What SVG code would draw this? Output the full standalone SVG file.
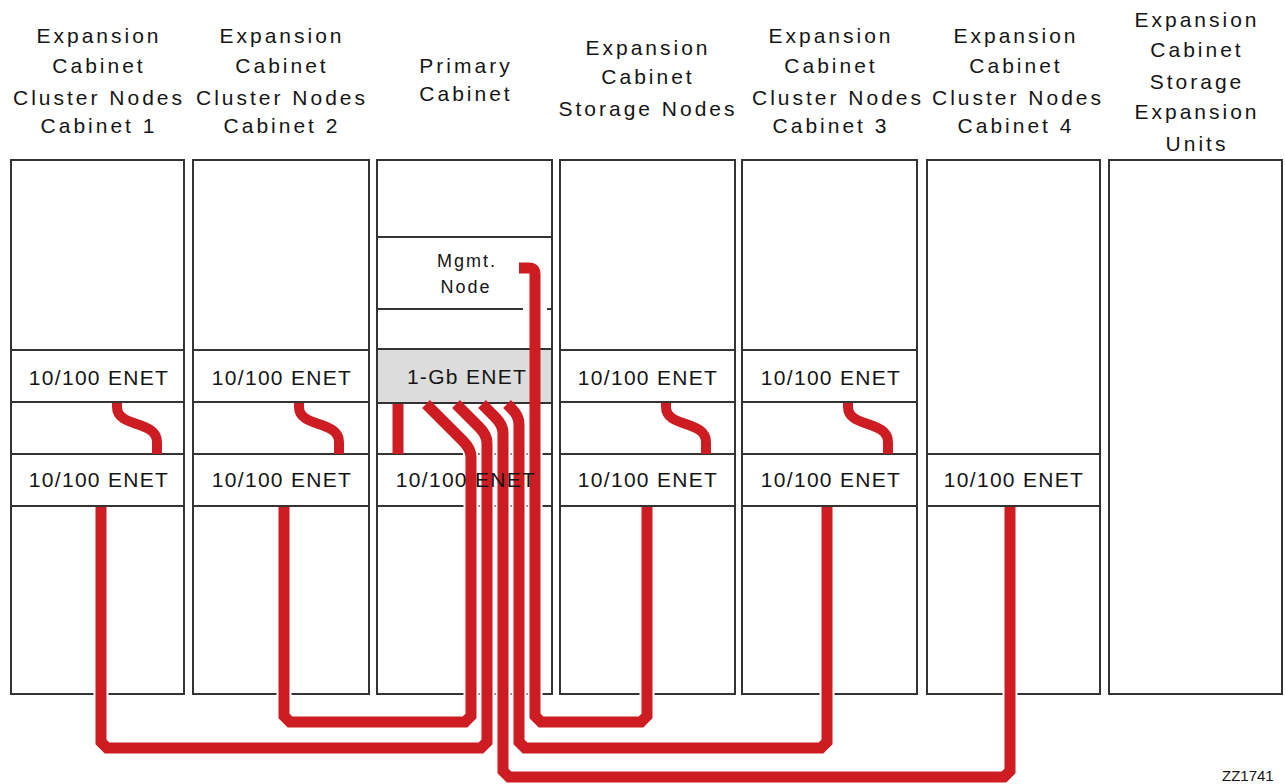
<svg xmlns="http://www.w3.org/2000/svg" width="1285" height="784" viewBox="0 0 1285 784">
<style>
.cab{fill:#fff;stroke:#333;stroke-width:2}
.ln{stroke:#333;stroke-width:2;fill:none}
.gb{fill:#dcdcdc;stroke:#333;stroke-width:2}
.hd{font-family:"Liberation Sans",Arial,sans-serif;font-size:21px;letter-spacing:3px;fill:#151515;text-anchor:middle}
.en{font-family:"Liberation Sans",Arial,sans-serif;font-size:21px;letter-spacing:1.3px;fill:#151515;text-anchor:middle}
.mg{font-family:"Liberation Sans",Arial,sans-serif;font-size:18px;letter-spacing:2px;fill:#151515;text-anchor:middle}
.cb{fill:none;stroke:#cd1c22;stroke-width:11;stroke-linejoin:miter}
.sc{fill:none;stroke:#cd1c22;stroke-width:10}
.halo{fill:none;stroke:#fff;stroke-width:15}
</style>
<defs>
<clipPath id="haloClip"><rect x="0" y="440" width="1285" height="344"/></clipPath>
</defs>
<rect width="1285" height="784" fill="#fff"/>

<g id="cab1">
<rect class="cab" x="11" y="160" width="173" height="534"/>
<path class="ln" d="M11,350H184M11,402H184M11,454H184M11,506H184"/>
<text class="hd" x="99" y="43">Expansion</text>
<text class="hd" x="99" y="73">Cabinet</text>
<text class="hd" x="99" y="105">Cluster Nodes</text>
<text class="hd" x="99" y="133">Cabinet 1</text>
<text class="en" x="99" y="385">10/100 ENET</text>
<text class="en" x="99" y="487">10/100 ENET</text>
</g>

<g id="cab2">
<rect class="cab" x="193" y="160" width="176" height="534"/>
<path class="ln" d="M193,350H369M193,402H369M193,454H369M193,506H369"/>
<text class="hd" x="282" y="43">Expansion</text>
<text class="hd" x="282" y="73">Cabinet</text>
<text class="hd" x="282" y="105">Cluster Nodes</text>
<text class="hd" x="282" y="133">Cabinet 2</text>
<text class="en" x="282" y="385">10/100 ENET</text>
<text class="en" x="282" y="487">10/100 ENET</text>
</g>

<g id="primary">
<rect class="cab" x="377" y="160" width="175" height="534"/>
<path class="ln" d="M377,237H552M377,309H523M547,309H552"/>
<rect class="gb" x="377" y="349" width="175" height="54"/>
<path class="ln" d="M377,454H552M377,506H552"/>
<text class="hd" x="466" y="73">Primary</text>
<text class="hd" x="466" y="101">Cabinet</text>
<text class="mg" x="467" y="267">Mgmt.</text>
<text class="mg" x="466" y="293">Node</text>
<text class="en" x="467" y="384">1-Gb ENET</text>
</g>

<g id="storage">
<rect class="cab" x="560" y="160" width="175" height="534"/>
<path class="ln" d="M560,350H735M560,402H735M560,454H735M560,506H735"/>
<text class="hd" x="648" y="55">Expansion</text>
<text class="hd" x="648" y="84">Cabinet</text>
<text class="hd" x="648" y="116">Storage Nodes</text>
<text class="en" x="648" y="385">10/100 ENET</text>
<text class="en" x="648" y="487">10/100 ENET</text>
</g>

<g id="cab3">
<rect class="cab" x="742" y="160" width="175" height="534"/>
<path class="ln" d="M742,350H917M742,402H917M742,454H917M742,506H917"/>
<text class="hd" x="831" y="43">Expansion</text>
<text class="hd" x="831" y="73">Cabinet</text>
<text class="hd" x="838" y="105">Cluster Nodes</text>
<text class="hd" x="831" y="133">Cabinet 3</text>
<text class="en" x="831" y="385">10/100 ENET</text>
<text class="en" x="831" y="487">10/100 ENET</text>
</g>

<g id="cab4">
<rect class="cab" x="927" y="160" width="173" height="534"/>
<path class="ln" d="M927,454H1100M927,506H1100"/>
<text class="hd" x="1016" y="43">Expansion</text>
<text class="hd" x="1016" y="73">Cabinet</text>
<text class="hd" x="1018" y="105">Cluster Nodes</text>
<text class="hd" x="1016" y="133">Cabinet 4</text>
<text class="en" x="1014" y="487">10/100 ENET</text>
</g>

<g id="storage-exp">
<rect class="cab" x="1109" y="160" width="173" height="534"/>
<text class="hd" x="1197" y="27">Expansion</text>
<text class="hd" x="1197" y="57">Cabinet</text>
<text class="hd" x="1197" y="89">Storage</text>
<text class="hd" x="1197" y="119">Expansion</text>
<text class="hd" x="1197" y="151">Units</text>
</g>

<g id="connectors">
<g clip-path="url(#haloClip)">
<path class="halo" d="M426,404 L463,441 Q471,449 471,457 L471,716 L465,722 L290,722 L284,716 L284,507"/>
<path class="halo" d="M456,404 L479,427 Q487,435 487,443 L487,742 L481,748 L107,748 L101,742 L101,507"/>
<path class="halo" d="M482,404 L495,417 Q503,425 503,433 L503,771 L509,777 L1004,777 L1010,771 L1010,507"/>
<path class="halo" d="M507,404 L511,408 Q519,416 519,424 L519,742 L525,748 L821,748 L827,742 L827,507"/>
<path class="halo" d="M535,440 L535,716 L541,722 L641,722 L647,716 L647,507"/>
</g>
<path class="cb" d="M398,404 L398,454"/>
<path class="cb" d="M426,404 L463,441 Q471,449 471,457 L471,716 L465,722 L290,722 L284,716 L284,507"/>
<path class="cb" d="M456,404 L479,427 Q487,435 487,443 L487,742 L481,748 L107,748 L101,742 L101,507"/>
<path class="cb" d="M482,404 L495,417 Q503,425 503,433 L503,771 L509,777 L1004,777 L1010,771 L1010,507"/>
<path class="cb" d="M507,404 L511,408 Q519,416 519,424 L519,742 L525,748 L821,748 L827,742 L827,507"/>
<path class="cb" d="M519,268 L529,268 Q535,268 535,274 L535,716 L541,722 L641,722 L647,716 L647,507"/>
<path class="sc" d="M117,403 L117,407 C117,428 157,420 157,442 L157,454"/>
<path class="sc" d="M299,403 L299,407 C299,428 339,420 339,442 L339,454"/>
<path class="sc" d="M666,403 L666,407 C666,428 706,420 706,442 L706,454"/>
<path class="sc" d="M848,403 L848,407 C848,428 888,420 888,442 L888,454"/>
</g>

<g id="primary-10-100-enet-label">
<text class="en" x="466" y="487">10/100 ENET</text>
</g>

<text x="1222" y="781" font-family="'Liberation Sans',Arial,sans-serif" font-size="15" fill="#151515">ZZ1741</text>
</svg>
